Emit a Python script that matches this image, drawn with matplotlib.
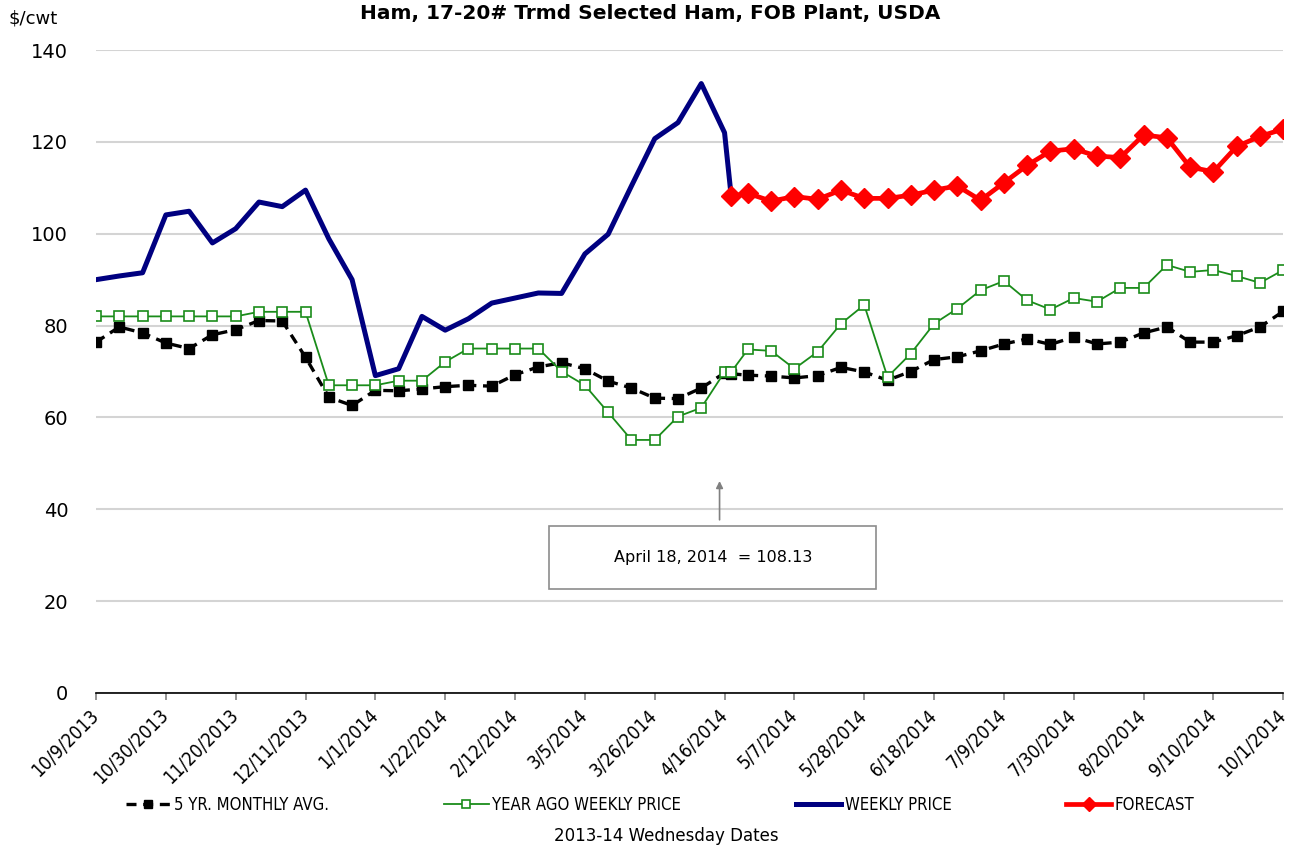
import matplotlib
matplotlib.use("Agg")
import matplotlib.pyplot as plt
from matplotlib.patches import Rectangle
from matplotlib.font_manager import FontProperties
import pandas as pd

# weekly wednesdays 10/9/2013 .. 10/1/2014, plus the 4/18/2014 forecast anchor
weeks = list(pd.date_range("2013-10-09", "2014-10-01", freq="7D"))
anchor = pd.Timestamp("2014-04-18")
all_dates = weeks[:28] + [anchor] + weeks[28:]
weekly_dates = weeks[:28] + [anchor]
forecast_dates = [anchor] + weeks[28:]

five_yr = [76.4, 79.7, 78.4, 76.2, 75.0, 78.0, 79.1, 81.1, 81.0, 73.1, 64.4, 62.6, 65.9, 65.8,
           66.2, 66.7, 67.0, 66.8, 69.3, 71.0, 71.9, 70.6, 67.9, 66.4, 64.2, 64.1, 66.4, 69.7,
           69.5,
           69.2, 69.0, 68.6, 69.1, 70.9, 69.9, 68.1, 70.0, 72.6, 73.2, 74.5, 76.0, 77.1, 75.9,
           77.5, 76.0, 76.4, 78.4, 79.7, 76.4, 76.4, 77.8, 79.7, 83.1]
year_ago = [82, 82, 82, 82, 82, 82, 82, 83, 83, 83, 67, 67, 67, 68, 68, 72.1, 75, 75, 75, 75,
            70.0, 67.0, 61.1, 55.1, 55.1, 60.2, 62.1, 69.9,
            69.9,
            74.8, 74.5, 70.6, 74.3, 80.4, 84.5, 68.8, 73.9, 80.4, 83.7, 87.7, 89.7, 85.5, 83.5,
            86.0, 85.2, 88.2, 88.2, 93.2, 91.7, 92.1, 90.8, 89.3, 92.1]
weekly = [90.0, 90.8, 91.5, 104.1, 104.9, 98.0, 101.1, 106.9, 105.9, 109.5, 98.9, 90.0, 69.1,
          70.6, 82.0, 79.0, 81.5, 84.9, 86.0, 87.1, 87.0, 95.6, 99.9, 110.4, 120.7, 124.2,
          132.7, 122.0, 108.13]
forecast = [108.13, 108.8, 107.1, 108.1, 107.5, 109.5, 107.7, 107.7, 108.4, 109.5, 110.4,
            107.3, 111.1, 114.9, 118.0, 118.5, 116.9, 116.6, 121.5, 120.9, 114.5, 113.5,
            119.0, 121.2, 122.8]

tick_dates = weeks[::3]
tick_labels = ["{}/{}/{}".format(d.month, d.day, d.year) for d in tick_dates]

tick_font = FontProperties(family="DejaVu Sans", stretch="condensed", size=13.5)
legend_font = FontProperties(family="DejaVu Sans", stretch="condensed", size=12)

fig = plt.figure(figsize=(12.94, 8.51), dpi=100)
ax = fig.add_axes([0.0742, 0.1857, 0.9175, 0.7555])

l1, = ax.plot(all_dates, five_yr, color="black", lw=2.4, ls=(0, (3, 2)),
              marker="s", ms=7.5, label="5 YR. MONTHLY AVG.")
l2, = ax.plot(all_dates, year_ago, color="#1a8c1a", lw=1.3, marker="s", ms=7,
              mfc="white", mec="#1a8c1a", mew=1.2, label="YEAR AGO WEEKLY PRICE")
l3, = ax.plot(weekly_dates, weekly, color="#000080", lw=3.6, label="WEEKLY PRICE")
l4, = ax.plot(forecast_dates, forecast, color="red", lw=3.4, marker="D", ms=10,
              label="FORECAST")

ax.set_ylim(0, 140)
ax.set_yticks(range(0, 141, 20))
ax.set_xlim(weeks[0], weeks[-1])
ax.set_xticks(tick_dates)
ax.set_xticklabels(tick_labels, rotation=45, ha="right", va="center",
                   rotation_mode="anchor", fontproperties=tick_font)
ax.tick_params(axis="y", length=0, labelsize=14, pad=20)
ax.tick_params(axis="x", length=5, width=1.2, color="#808080", direction="out", pad=9)
ax.yaxis.grid(True, color="#d4d4d4", lw=1.5)
ax.set_axisbelow(True)
for s in ["left", "top", "right"]:
    ax.spines[s].set_visible(False)
ax.spines["bottom"].set_linewidth(1.2)

fig.text(0.5025, 1 - 14 / 851, "Ham, 17-20# Trmd Selected Ham, FOB Plant, USDA",
         ha="center", va="center", fontsize=14.5, fontweight="bold")
fig.text(8 / 1294, 1 - 19 / 851, "$/cwt", ha="left", va="center", fontsize=13)

# annotation box
ax.add_patch(Rectangle((0.3816, 0.1614), 0.2755, 0.0986, transform=ax.transAxes,
                       fill=False, edgecolor="#8c8c8c", lw=1.2))
ax.text(0.5195, 0.211, "April 18, 2014  = 108.13", transform=ax.transAxes,
        ha="center", va="center", fontsize=11.5)
ax.annotate("", xy=(0.5252, 0.334), xytext=(0.5252, 0.265), xycoords="axes fraction",
            arrowprops=dict(arrowstyle="-|>", color="#808080", lw=1.2, mutation_scale=10))

fig.legend(handles=[l1, l2, l3, l4], loc="center", ncol=4, frameon=False,
           bbox_to_anchor=(660 / 1294, 1 - 805 / 851), numpoints=1, markerscale=0.75,
           prop=legend_font, handlelength=2.7,
           handletextpad=0.2, columnspacing=6.9)
fig.text(666 / 1294, 1 - 836 / 851, "2013-14 Wednesday Dates", ha="center",
         va="center", fontsize=12)

fig.savefig("out.png", dpi=100)
